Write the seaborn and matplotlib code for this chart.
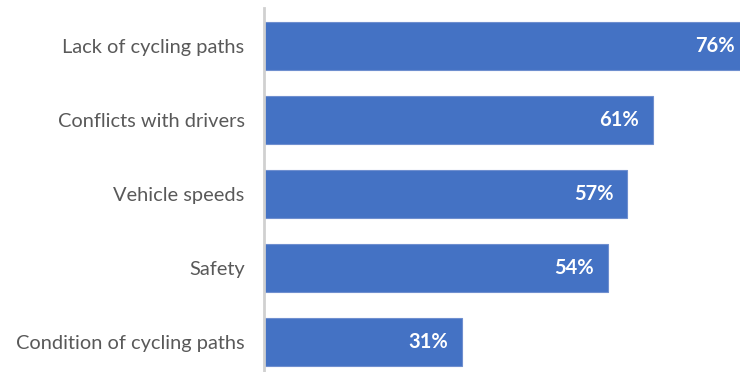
import matplotlib
matplotlib.use("Agg")
import matplotlib.pyplot as plt
import seaborn as sns
import pandas as pd

categories = [
    "Lack of cycling paths",
    "Conflicts with drivers",
    "Vehicle speeds",
    "Safety",
    "Condition of cycling paths",
]
shares = [76, 61, 57, 54, 31]
value_labels = ["76%", "61%", "57%", "54%", "31%"]

df = pd.DataFrame({"category": categories, "share": shares})

sns.set_theme(style="white")
plt.rcParams["font.family"] = ["Lato", "DejaVu Sans"]

fig = plt.figure(figsize=(7.4, 3.72), dpi=100)
ax = fig.add_axes([264 / 740, 0.0, 1 - 264 / 740, 1 - 8 / 372])

sns.barplot(
    data=df, x="share", y="category", order=categories, ax=ax,
    color="#4472C4", saturation=1, width=0.66,
    edgecolor="#6F8FCF", linewidth=0.8,
)

ax.set_xlim(0, 74.7)
ax.set_ylim(4.405, -0.514)
ax.set_xlabel("")
ax.set_ylabel("")
ax.set_xticks([])

for side in ("top", "right", "bottom"):
    ax.spines[side].set_visible(False)
ax.spines["left"].set_color("#D0D0D0")
ax.spines["left"].set_linewidth(2)

ax.tick_params(axis="y", length=0, pad=14, labelsize=14.4, labelcolor="#595959")

for i, (v, lab) in enumerate(zip(shares, value_labels)):
    ax.annotate(
        lab, xy=(v, i), xytext=(-10, 0), textcoords="offset points",
        ha="right", va="center", color="white", fontsize=14.5,
        fontweight="bold", annotation_clip=False,
    )

fig.savefig("out.png", dpi=100)
